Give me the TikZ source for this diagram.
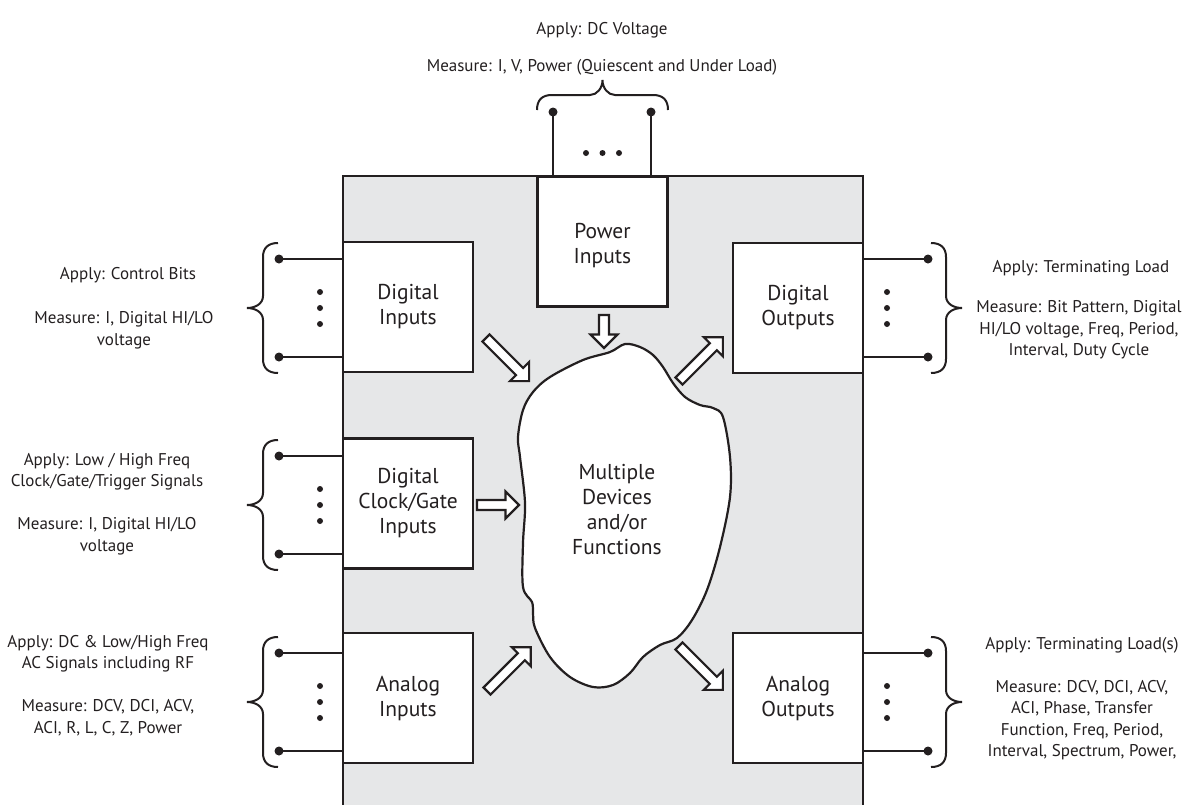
\documentclass[tikz,border=0pt]{standalone}
\usepackage{fontspec}
\setmainfont{PT Sans}
\definecolor{ink}{HTML}{231F20}
\definecolor{panel}{HTML}{E6E7E8}
\newcommand\blockarrow[3]{\draw[blk, shift={#1}, rotate=#2] (0,-5) -- (#3-13.5,-5) -- (#3-13.5,-13.5) -- (#3,0) -- (#3-13.5,13.5) -- (#3-13.5,5) -- (0,5) -- cycle;}
\newcommand\leftbrace[4]{% xend, ytop, ybot, ytip
  \draw[brc] (#1,#2) .. controls (#1-10,#2) and (#1-15,#2+5) .. (#1-15,#2+14) -- (#1-15,#4-12) .. controls (#1-15,#4-4) and (#1-23,#4) .. (#1-31,#4) .. controls (#1-23,#4) and (#1-15,#4+4) .. (#1-15,#4+12) -- (#1-15,#3-14) .. controls (#1-15,#3-5) and (#1-10,#3) .. (#1,#3);}
\newcommand\rightbrace[4]{% xend, ytop, ybot, ytip
  \draw[brc] (#1,#2) .. controls (#1+10,#2) and (#1+15,#2+5) .. (#1+15,#2+14) -- (#1+15,#4-12) .. controls (#1+15,#4-4) and (#1+23,#4) .. (#1+31,#4) .. controls (#1+23,#4) and (#1+15,#4+4) .. (#1+15,#4+12) -- (#1+15,#3-14) .. controls (#1+15,#3-5) and (#1+10,#3) .. (#1,#3);}
\begin{document}
\begin{tikzpicture}[x=1pt,y=-1pt,
  box/.style={draw=ink, fill=white, line width=2.5pt, minimum width=130pt, minimum height=130pt, inner sep=0pt, align=center, text=ink, font=\fontsize{21.5}{25}\selectfont},
  boxtext/.style={align=center, inner sep=0pt, text=ink, font=\fontsize{21.5}{25}\selectfont},
  lbl/.style={align=center, inner sep=0pt, text=ink, font=\fontsize{17}{21.5}\selectfont},
  wire/.style={draw=ink, line width=2pt},
  brc/.style={draw=ink, line width=2pt},
  blk/.style={draw=ink, fill=white, line width=2.2pt, line join=miter},
  dot/.style={fill=ink}]
\useasboundingbox (0,0) rectangle (1191,804);
% panel
\draw[draw=ink, fill=panel, line width=2.5pt] (343,176) rectangle (863,820);
% boxes
\node[box] (pw) at (602.5,241.5) {};
\node[boxtext] (pwt) at (602.5,246) {Power\\Inputs};
\node[box] (di) at (408,307) {Digital\\Inputs};
\node[box] (ck) at (408,503.5) {Digital\\Clock/Gate\\Inputs};
\node[box] (ai) at (408,698) {Analog\\Inputs};
\node[box] (do) at (798,308) {Digital\\Outputs};
\node[box] (ao) at (798,698) {Analog\\Outputs};
% blob
\draw[draw=ink, fill=white, line width=2.2pt] plot[smooth cycle, tension=0.55] coordinates {
 (625,344) (640,347) (653,355) (663,367) (673,383) (685,397) (700,405) (713,408) (723,417)
 (730,457) (730,497) (720,547) (707,590) (692,620) (677,638) (660,645) (643,657) (630,673)
 (613,685) (593,687) (570,677) (550,657) (535,628) (533,613) (532,602) (523,587) (523,543)
 (525,503) (520,457) (518,437) (523,410) (533,392) (550,377) (583,360) (610,352)};
\node[boxtext] (bl) at (617,510) {Multiple\\Devices\\and/or\\Functions};
% block arrows
\blockarrow{(604,315)}{-90}{33}
\blockarrow{(486,338)}{-45}{61}
\blockarrow{(477,505)}{0}{42}
\blockarrow{(487,691)}{45}{62}
\blockarrow{(679,381)}{45}{62}
\blockarrow{(679,646)}{-45}{62}
% power terminals
\coordinate (pa) at (553,112);
\coordinate (pb) at (651,112);
\draw[wire] (pa) -- (pa |- pw.north);
\draw[wire] (pb) -- (pb |- pw.north);
\fill[dot] (pa) circle (4.5pt) (pb) circle (4.5pt);
\fill[dot] (586,153) circle (3pt) (602.5,153) circle (3pt) (619,153) circle (3pt);
\draw[brc] (537,110) .. controls (537,100) and (542,95) .. (552,95) -- (590,95) .. controls (597,95) and (602.5,88) .. (602.5,80) .. controls (602.5,88) and (608,95) .. (615,95) -- (653,95) .. controls (663,95) and (668,100) .. (668,110);
% left terminals
\foreach \n/\ya/\yb/\yc in {di/259/357/308, ck/456/554/505, ai/653/751/702}{
  \coordinate (\n a) at (279,\ya);
  \coordinate (\n b) at (279,\yb);
  \draw[wire] (\n a) -- (\n a -| \n.west);
  \draw[wire] (\n b) -- (\n b -| \n.west);
  \fill[dot] (\n a) circle (4.5pt) (\n b) circle (4.5pt);
  \fill[dot] (320,\yc-16) circle (3pt) (320,\yc) circle (3pt) (320,\yc+16) circle (3pt);
}
\leftbrace{278}{243}{373}{308}
\leftbrace{278}{440}{570}{505}
\leftbrace{278}{637}{767}{702}
% right terminals
\foreach \n/\ya/\yb/\yc in {do/259/357/308, ao/653/751/702}{
  \coordinate (\n a) at (928,\ya);
  \coordinate (\n b) at (928,\yb);
  \draw[wire] (\n a) -- (\n a -| \n.east);
  \draw[wire] (\n b) -- (\n b -| \n.east);
  \fill[dot] (\n a) circle (4.5pt) (\n b) circle (4.5pt);
  \fill[dot] (887,\yc-16) circle (3pt) (887,\yc) circle (3pt) (887,\yc+16) circle (3pt);
}
\rightbrace{931}{243}{373}{308}
\rightbrace{931}{637}{767}{702}
% labels
\node[lbl] (t1) at (602,30) {Apply: DC Voltage};
\node[lbl] (t2) at (602,67) {Measure: I, V, Power (Quiescent and Under Load)};
\node[lbl] (l1) at (128,275) {Apply: Control Bits};
\node[lbl] (l2) at (124,330) {Measure: I, Digital HI/LO\\voltage};
\node[lbl] (l3) at (107,471.5) {Apply: Low / High Freq\\Clock/Gate/Trigger Signals};
\node[lbl] (l4) at (107,536) {Measure: I, Digital HI/LO\\voltage};
\node[lbl] (l5) at (108,653.5) {Apply: DC \& Low/High Freq\\AC Signals including RF};
\node[lbl] (l6) at (108,717.5) {Measure: DCV, DCI, ACV,\\ACI, R, L, C, Z, Power};
\node[lbl] (r1) at (1081,268) {Apply: Terminating Load};
\node[lbl] (r2) at (1079,330) {Measure: Bit Pattern, Digital\\HI/LO voltage, Freq, Period,\\Interval, Duty Cycle};
\node[lbl] (r3) at (1082,645) {Apply: Terminating Load(s)};
\node[lbl] (r4) at (1082,720) {Measure: DCV, DCI, ACV,\\ACI, Phase, Transfer\\Function, Freq, Period,\\Interval, Spectrum, Power,};
\end{tikzpicture}
\end{document}
